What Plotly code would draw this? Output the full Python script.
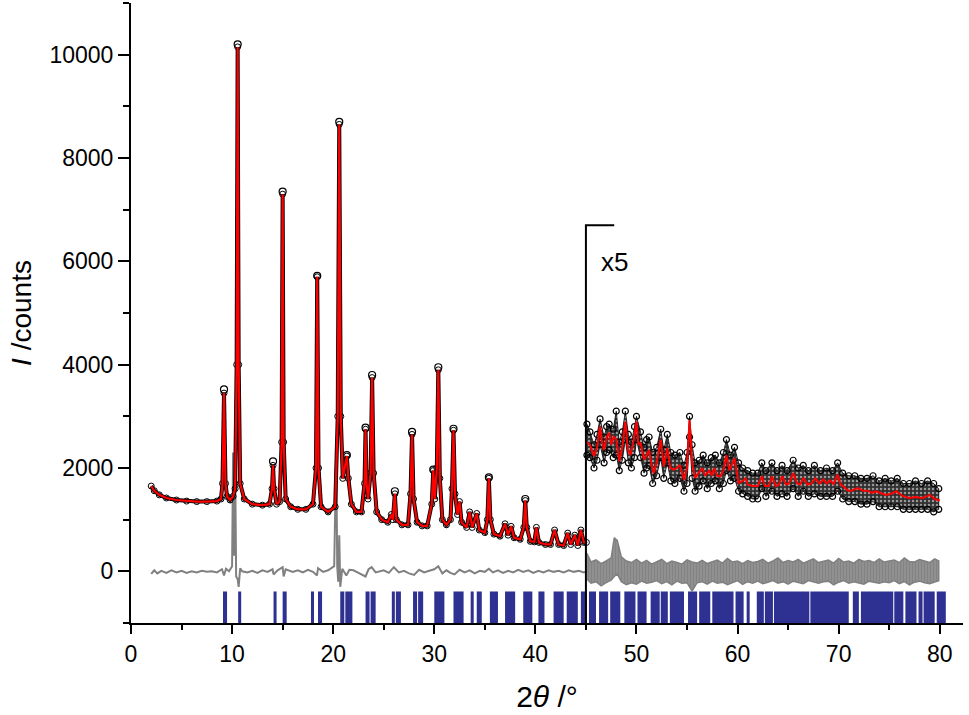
import plotly.graph_objects as go

# --- Data -------------------------------------------------------------------
# Calculated profile, 2-45 deg (unscaled)
calc_a_x = [2.0, 2.3, 2.8, 3.5, 4.5, 5.5, 6.5, 7.5, 8.5, 8.9, 9.05, 9.2, 9.35, 9.5, 9.8,
            10.1, 10.3, 10.45, 10.55, 10.65, 10.8, 11.2, 12.0, 13.0, 13.7, 13.95, 14.05,
            14.15, 14.4, 14.7, 14.9, 15.0, 15.1, 15.3, 15.8, 16.5, 17.3, 18.0, 18.3, 18.42,
            18.55, 18.8, 19.5, 20.2, 20.45, 20.6, 20.75, 20.95, 21.2, 21.35, 21.5, 21.8,
            22.3, 22.8, 23.1, 23.2, 23.3, 23.45, 23.7, 23.85, 24.0, 24.3, 24.8, 25.4, 25.75,
            25.9, 26.1, 26.25, 26.8, 27.4, 27.65, 27.8, 27.95, 28.3, 28.8, 29.3, 29.75, 29.9,
            30.05, 30.25, 30.4, 30.55, 30.8, 31.2, 31.6, 31.75, 31.9, 32.05, 32.3, 32.5,
            32.7, 33.2, 33.5, 33.75, 34.2, 34.45, 35.0, 35.25, 35.4, 35.55, 35.9, 36.5, 37.0,
            37.3, 37.6, 37.9, 38.5, 38.85, 39.0, 39.15, 39.5, 39.9, 40.1, 40.35, 41.0, 41.5,
            41.9, 42.3, 42.8, 43.2, 43.5, 43.9, 44.2, 44.5, 44.8, 45.05]
calc_a_y = [1650, 1560, 1480, 1420, 1380, 1360, 1350, 1350, 1360, 1400, 1700, 3450, 1700, 1450, 1380,
            1450, 1600, 4000, 10150, 4000, 1700, 1400, 1300, 1280, 1300, 1600, 2050,
            1600, 1300, 1350, 2500, 7300, 2500, 1400, 1250, 1200, 1200, 1300, 2000, 5700,
            2000, 1250, 1150, 1250, 3000, 8650, 3000, 1800, 2100, 2230, 1800, 1300,
            1150, 1150, 1700, 2750, 1700, 1400, 1900, 3750, 1900, 1150, 1000, 950, 1100,
            1000, 1500, 1000, 900, 900, 1500, 2650, 1400, 950, 880, 880, 1300, 1950,
            1400, 2000, 3900, 1800, 1000, 900, 1000, 1600, 2730, 1500, 1100, 1350,
            950, 850, 1150, 850, 1120, 800, 750, 1000, 1800, 1000, 720, 680, 920,
            700, 870, 650, 620, 850, 1370, 850, 580, 570, 850, 560, 520, 520,
            800, 520, 500, 740, 520, 700, 500, 800, 560, 560]

# Observed peak tops that stand above the fit (2-45 deg)
obs_top_x = [9.2, 10.55, 14.05, 15.0, 18.42, 20.6, 21.35, 23.2, 23.85, 26.1, 27.8, 29.9,
             30.4, 31.9, 35.4, 39.0]
obs_top_y = [3520, 10200, 2130, 7350, 5720, 8700, 2250, 2780, 3800, 1550, 2700, 1970,
             3950, 2760, 1820, 1400]

# Calculated profile, 45-80 deg (x5)
calc_b_x = [45.1, 45.4, 45.8, 46.1, 46.4, 46.6, 46.8, 47.05, 47.3, 47.5, 47.75, 48.0, 48.3,
            48.6, 48.9, 49.15, 49.4, 49.7, 50.0, 50.2, 50.4, 50.75, 51.0, 51.25, 51.5, 51.7,
            52.0, 52.4, 52.7, 53.05, 53.35, 53.7, 54.0, 54.3, 54.7, 55.0, 55.25, 55.5, 55.8,
            56.1, 56.5, 56.8, 57.2, 57.45, 57.7, 58.0, 58.3, 58.6, 58.9, 59.2, 59.5, 59.7,
            59.9, 60.1, 60.5, 60.8, 61.0, 61.5, 62.0, 62.4, 62.7, 63.1, 63.4, 63.8, 64.1,
            64.4, 64.8, 65.1, 65.5, 65.9, 66.2, 66.5, 66.9, 67.3, 67.7, 68.1, 68.5, 68.8,
            69.15, 69.5, 69.9, 70.2, 70.5, 70.8, 71.1, 71.5, 71.9, 72.4, 72.9, 73.3, 73.7,
            74.2, 74.7, 75.2, 75.7, 76.3, 77.0, 77.6, 78.3, 78.7, 79.0, 79.5, 80.0]
calc_b_y = [2500, 2450, 2230, 2400, 2800, 2500, 2350, 2600, 2680, 2450, 2600, 2550, 2130,
            2400, 2900, 2350, 2250, 2500, 2900, 2450, 2490, 2160, 2250, 2350, 2050, 1900,
            2100, 2550, 2030, 2390, 2000, 1970, 2000, 2060, 1770, 2000, 2930, 2100, 1810,
            1900, 2000, 1850, 1960, 1850, 2000, 1850, 1840, 1950, 2250, 1950, 2100, 2190,
            1950, 1710, 1750, 1800, 1680, 1650, 1650, 1840, 1650, 1650, 1840, 1650, 1680,
            1840, 1680, 1700, 1900, 1700, 1680, 1810, 1680, 1700, 1800, 1700, 1780, 1700,
            1760, 1690, 1870, 1680, 1640, 1580, 1550, 1580, 1610, 1560, 1560, 1520, 1550,
            1510, 1480, 1500, 1550, 1460, 1420, 1440, 1420, 1450, 1480, 1400, 1370]

# Observed scatter envelope, 45-80 deg (x5)
band_x = [45.1, 45.4, 45.8, 46.1, 46.4, 46.8, 47.05, 47.3, 47.7, 48.0, 48.3, 48.6, 48.9,
          49.2, 49.5, 49.8, 50.0, 50.4, 50.75, 51.0, 51.25, 51.6, 52.0, 52.4, 52.7, 53.05,
          53.4, 53.8, 54.3, 54.7, 55.0, 55.25, 55.5, 55.8, 56.2, 56.6, 57.0, 57.4, 57.8,
          58.2, 58.6, 58.9, 59.3, 59.7, 60.1, 60.5, 61.0, 61.5, 62.0, 62.4, 62.8, 63.4,
          63.9, 64.4, 64.9, 65.5, 66.0, 66.5, 67.0, 67.6, 68.2, 68.8, 69.4, 69.9, 70.4,
          71.0, 71.6, 72.2, 72.8, 73.4, 74.0, 74.6, 75.2, 75.8, 76.4, 77.0, 77.6, 78.2,
          78.8, 79.4, 79.9]
band_top = [2850, 2700, 2450, 2650, 2950, 2600, 2800, 2850, 2750, 3100, 2500, 2700, 3100,
            2650, 2500, 2800, 3000, 2700, 2400, 2550, 2600, 2300, 2400, 2750, 2350, 2650,
            2300, 2250, 2300, 2050, 2300, 3000, 2450, 2100, 2150, 2250, 2100, 2200, 2250,
            2100, 2300, 2550, 2250, 2400, 2100, 2000, 1950, 1900, 1900, 2100, 1950, 2100,
            1950, 2050, 1950, 2150, 2000, 2050, 1950, 2050, 1950, 2000, 1950, 2100, 1900,
            1850, 1850, 1800, 1800, 1850, 1750, 1800, 1750, 1800, 1700, 1700, 1750, 1700,
            1750, 1700, 1600]
band_bot = [2250, 2200, 2000, 2150, 2450, 2100, 2300, 2350, 2200, 2250, 1950, 2150, 2550,
            2100, 2000, 2200, 2550, 2200, 1900, 2000, 2050, 1700, 1850, 2200, 1800, 2100,
            1750, 1700, 1800, 1550, 1700, 2600, 1800, 1550, 1650, 1750, 1600, 1700, 1750,
            1600, 1700, 1950, 1750, 1800, 1550, 1500, 1450, 1400, 1400, 1600, 1450, 1550,
            1450, 1500, 1450, 1600, 1450, 1550, 1450, 1500, 1450, 1450, 1450, 1550, 1400,
            1350, 1350, 1300, 1300, 1350, 1250, 1250, 1250, 1250, 1200, 1200, 1200, 1200,
            1200, 1150, 1200]

# Difference curve, 2-45 deg
diff_a_x = [2.0, 2.3, 2.6, 3.0, 3.5, 4.0, 4.5, 5.0, 5.5, 6.0, 6.5, 7.0, 7.5, 8.0, 8.5, 9.0,
            9.2, 9.4, 9.7, 10.0, 10.1, 10.2, 10.3, 10.4, 10.55, 10.65, 10.8, 11.0, 11.5, 12.0,
            12.5, 13.0, 13.5, 14.0, 14.1, 14.5, 15.0, 15.1, 15.3, 16.0, 16.5, 17.0, 17.5,
            18.0, 18.4, 18.5, 19.0, 19.5, 20.1, 20.25, 20.3, 20.4, 20.5, 20.6, 20.7, 20.9,
            21.3, 21.6, 22.0, 22.5, 23.2, 23.5, 23.8, 24.2, 24.5, 25.0, 25.5, 26.0, 26.5,
            27.0, 27.5, 28.0, 28.5, 29.0, 29.5, 30.0, 30.4, 30.8, 31.2, 31.6, 32.0, 32.5,
            33.0, 33.5, 34.0, 34.5, 35.0, 35.4, 35.8, 36.3, 36.8, 37.3, 37.8, 38.3, 38.8,
            39.3, 39.8, 40.3, 40.8, 41.3, 41.8, 42.3, 42.8, 43.3, 43.8, 44.3, 44.8, 45.05]
diff_a_y = [-50, 20, -40, 10, -30, 20, -20, 10, -30, 0, -20, 10, -10, 0, -20, 40,
            -80, 50, 0, 100, 2300, 300, 2150, -100, -150, -300, 60, 0, -20, 10,
            -30, 20, -10, 40, -60, 20, 80, -100, 40, -10, 20, -20, 30,
            -10, -80, 60, -10, 20, 100, 1800, 2300, 100, -200, 700, -300, 50,
            -80, 30, 20, -30, -100, 40, 80, -20, 0, 20, -30, 80, -20,
            10, -40, -70, 30, -20, 10, 40, 100, -40, 20, -30, -60, 30,
            -20, 20, -40, 10, -10, 50, -20, 20, -30, 10, -20, 30, -10,
            20, -30, 10, -20, 20, -10, 10, -20, 20, -10, 10, -20, 0]

# Difference envelope, 45-80 deg (x5)
diff_b_x = [45.1, 45.5, 46.0, 46.5, 47.0, 47.5, 47.8, 48.1, 48.5, 49.0, 49.5, 50.0, 50.5,
            51.0, 51.5, 52.0, 52.5, 53.0, 53.5, 54.0, 54.5, 55.0, 55.5, 56.0, 56.5, 57.0,
            57.5, 58.0, 58.5, 59.0, 59.5, 60.0, 60.5, 61.0, 61.5, 62.0, 62.5, 63.0, 63.5,
            64.0, 64.5, 65.0, 65.5, 66.0, 66.5, 67.0, 67.5, 68.0, 68.5, 69.0, 69.5, 70.0,
            70.5, 71.0, 71.5, 72.0, 72.5, 73.0, 73.5, 74.0, 74.5, 75.0, 75.5, 76.0, 76.5,
            77.0, 77.5, 78.0, 78.5, 79.0, 79.5, 79.9]
diff_b_top = [350, 180, 220, 150, 200, 260, 650, 600, 280, 200,
              170, 230, 160, 210, 140, 190, 230, 150, 200, 170,
              140, 220, 180, 160, 210, 150, 190, 220, 160, 250,
              180, 200, 150, 210, 170, 190, 230, 160, 200, 260,
              170, 210, 180, 230, 160, 200, 240, 170, 190, 220,
              160, 250, 180, 200, 160, 230, 190, 210, 170, 240,
              180, 200, 220, 170, 260, 190, 180, 230, 200, 170,
              240, 200]
diff_b_bot = [-150, -230, -200, -280, -220, -170, -100, -50, -200, -260,
              -220, -250, -190, -230, -210, -180, -240, -200, -260, -190,
              -230, -220, -380, -220, -200, -250, -190, -230, -210, -260,
              -220, -180, -250, -200, -230, -190, -240, -210, -180, -230,
              -200, -250, -190, -220, -240, -180, -210, -230, -200, -190,
              -260, -210, -180, -230, -200, -220, -250, -190, -210, -230,
              -200, -220, -180, -240, -200, -260, -210, -190, -220, -240,
              -200, -180]

# Reflection markers: start/end of each blue block (deg)
refl_lo = [9.1, 10.6, 14.1, 15.0, 17.8, 18.5, 20.7, 21.2, 23.2, 23.7, 25.8, 26.2, 27.9,
           28.4, 30.0, 31.9, 33.6, 34.2, 35.5, 37.0, 38.8, 40.3, 41.8, 43.1, 44.5, 45.3,
           46.3, 47.4, 48.8, 50.1, 51.4, 52.4, 53.3, 55.1, 56.2, 57.5, 59.8, 60.9, 61.9,
           62.7, 63.6, 67.2, 71.4, 72.2, 75.5, 76.6, 77.9, 78.4, 79.7]
refl_hi = [9.5, 10.9, 14.4, 15.4, 18.1, 18.9, 21.1, 21.9, 23.6, 24.2, 26.1, 26.7, 28.3,
           28.9, 31.0, 32.9, 33.9, 34.7, 36.3, 38.0, 39.7, 40.9, 42.8, 44.2, 45.1, 46.0,
           47.2, 48.4, 49.9, 51.0, 52.3, 53.1, 54.7, 56.0, 57.3, 59.6, 60.6, 61.2, 62.6,
           63.5, 67.1, 71.0, 72.0, 75.4, 76.4, 77.7, 78.3, 79.5, 80.6]
refl_bottom = -1000
refl_top = -390

# Scale-change marker
break_x = 45
break_top = 6700
bracket_end = 47.8

# --- Figure -------------------------------------------------------------------
font_family = "Liberation Sans, Arial, sans-serif"
fig = go.Figure()

# Reflection markers
fig.add_trace(go.Bar(
    x=[(a + b) / 2 for a, b in zip(refl_lo, refl_hi)],
    y=[refl_top - refl_bottom] * len(refl_lo),
    base=refl_bottom,
    width=[b - a for a, b in zip(refl_lo, refl_hi)],
    marker=dict(color="#2e3192", line=dict(width=0)),
))

# Difference curve
fig.add_trace(go.Scatter(x=diff_a_x, y=diff_a_y, mode="lines",
                         line=dict(color="#808080", width=2)))
fig.add_trace(go.Scatter(x=diff_b_x + diff_b_x[::-1], y=diff_b_top + diff_b_bot[::-1],
                         mode="lines", fill="toself", fillcolor="#8a8a8a",
                         fillpattern=dict(shape="|", fgcolor="#6e6e6e", bgcolor="#999999",
                                          size=3, solidity=0.6),
                         line=dict(color="#808080", width=1.5)))

# Observed data (open circles)
fig.add_trace(go.Scatter(x=calc_a_x, y=calc_a_y, mode="lines+markers",
                         line=dict(color="black", width=4),
                         marker=dict(symbol="circle-open", size=6, color="black")))
fig.add_trace(go.Scatter(x=obs_top_x, y=obs_top_y, mode="markers",
                         marker=dict(symbol="circle-open", size=7, color="black",
                                     line=dict(width=1.2))))
fig.add_trace(go.Scatter(x=band_x + band_x[::-1], y=band_top + band_bot[::-1],
                         mode="lines", fill="toself",
                         fillpattern=dict(shape=".", fgcolor="white", bgcolor="#303030",
                                          size=4, solidity=0.3),
                         line=dict(color="black", width=0.8)))
fig.add_trace(go.Scatter(x=band_x + band_x, y=band_top + band_bot, mode="markers",
                         marker=dict(symbol="circle-open", size=6, color="black",
                                     line=dict(width=1.2))))

# Calculated profile
fig.add_trace(go.Scatter(x=calc_a_x, y=calc_a_y, mode="lines",
                         line=dict(color="#ff0000", width=2.2)))
fig.add_trace(go.Scatter(x=calc_b_x, y=calc_b_y, mode="lines",
                         line=dict(color="#ff0000", width=2)))

# x5 bracket
fig.add_trace(go.Scatter(x=[break_x, break_x, bracket_end],
                         y=[refl_bottom, break_top, break_top], mode="lines",
                         line=dict(color="black", width=2)))
fig.add_annotation(x=46.3, y=5980, text="x5", showarrow=False, xanchor="left",
                   font=dict(family=font_family, size=26, color="black"))

fig.update_layout(
    width=969,
    height=715,
    margin=dict(l=131, r=6, t=3, b=92),
    plot_bgcolor="white",
    paper_bgcolor="white",
    showlegend=False,
    font=dict(family=font_family, size=23, color="black"),
    xaxis=dict(
        range=[0, 82.3],
        tick0=0, dtick=10,
        ticks="outside", ticklen=9, tickwidth=2, tickcolor="black",
        minor=dict(tick0=0, dtick=5, ticks="outside", ticklen=5, tickwidth=2, tickcolor="black"),
        showline=True, linecolor="black", linewidth=2,
        showgrid=False, zeroline=False, automargin=False,
        title=dict(text="2<i>θ</i> /°", font=dict(size=30), standoff=20),
    ),
    yaxis=dict(
        range=[-1000, 11000],
        tick0=0, dtick=2000, tickformat="d",
        ticks="outside", ticklen=11, tickwidth=2, tickcolor="black",
        minor=dict(tick0=0, dtick=1000, ticks="outside", ticklen=6, tickwidth=2, tickcolor="black"),
        showline=True, linecolor="black", linewidth=2,
        showgrid=False, zeroline=False, automargin=False,
        title=dict(text="<i>I</i> /counts", font=dict(size=28), standoff=10),
    ),
)

# the page body has a default 8px margin; remove it so the figure sits at the window origin
fig.write_html("out.html", config=dict(displayModeBar=False),
               post_script="document.body.style.margin = '0';")
